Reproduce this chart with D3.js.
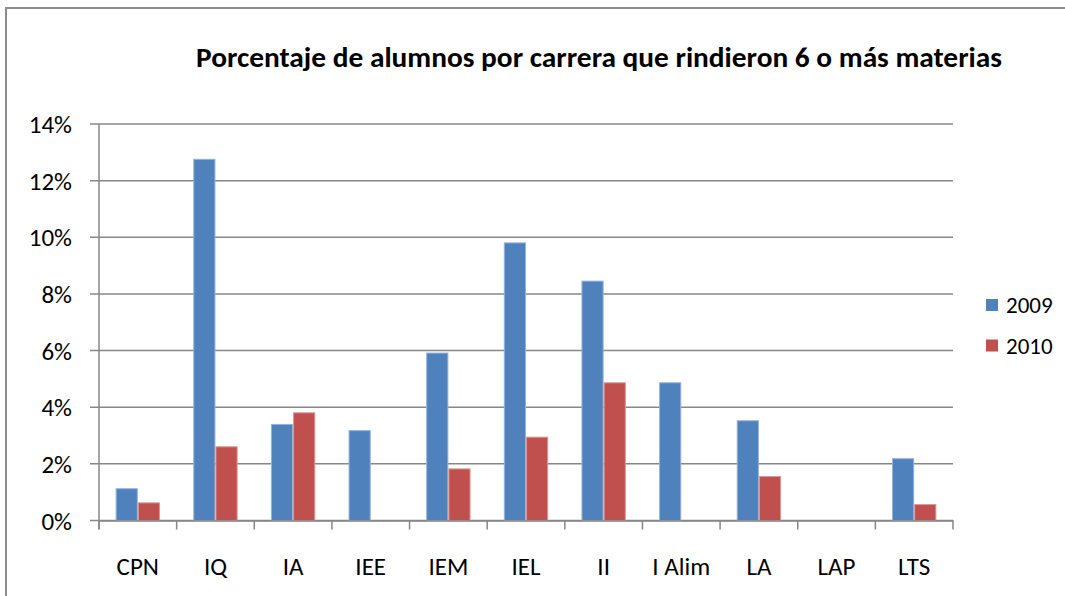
<!DOCTYPE html>
<html>
<head>
<meta charset="utf-8">
<script src="https://cdn.jsdelivr.net/npm/d3@7"></script>
<style>
    body { margin: 0; background: #fff; }
    svg { display: block; font-family: Carlito, "Liberation Sans", Arial, sans-serif; }
</style>
</head>
<body>
<div id="chart"></div>
<script>
const categories = ["CPN", "IQ", "IA", "IEE", "IEM", "IEL", "II", "I Alim", "LA", "LAP", "LTS"]
const series_names = ["2009", "2010"]
const values_2009 = [1.14, 12.77, 3.41, 3.19, 5.93, 9.82, 8.47, 4.88, 3.54, 0, 2.20]
const values_2010 = [0.64, 2.62, 3.82, 0, 1.84, 2.96, 4.88, 0, 1.57, 0, 0.58]
const y_ticks = [0, 2, 4, 6, 8, 10, 12, 14]
const colors = ["#4f81bd", "#c0504d"]
const title = "Porcentaje de alumnos por carrera que rindieron 6 o más materias"

const width = 1065
const height = 596
const margin = {top: 124, right: 112, bottom: 75.5, left: 99}

const svg = d3.select("#chart").append("svg")
    .attr("width", width)
    .attr("height", height)

// outer frame, only top and left edges are visible in the crop
svg.append("path")
    .attr("d", `M6,${height} V8 H${width}`)
    .attr("fill", "none")
    .attr("stroke", "#8c8c8c")
    .attr("stroke-width", 2)

const x = d3.scaleBand()
    .domain(categories)
    .range([margin.left, width - margin.right])

const x_inner = d3.scaleBand()
    .domain(series_names)
    .range([0, x.bandwidth()])
    .paddingInner(0)
    .paddingOuter(0.75)

const y = d3.scaleLinear()
    .domain([0, 14])
    .range([height - margin.bottom, margin.top])

// gridlines
svg.append("g")
    .selectAll("line")
    .data(y_ticks)
    .join("line")
    .attr("x1", margin.left - 9)
    .attr("x2", width - margin.right)
    .attr("y1", d => y(d))
    .attr("y2", d => y(d))
    .attr("stroke", "#878787")
    .attr("stroke-width", 1.5)

svg.append("g")
    .selectAll("text")
    .data(y_ticks)
    .join("text")
    .attr("x", 72)
    .attr("y", d => y(d))
    .attr("dy", "0.36em")
    .attr("text-anchor", "end")
    .attr("font-size", 25)
    .attr("fill", "#000")
    .text(d => d + "%")

const rows = categories.map((c, i) => ({cat: c, vals: [values_2009[i], values_2010[i]]}))

const group = svg.append("g")
    .selectAll("g")
    .data(rows)
    .join("g")
    .attr("transform", d => `translate(${x(d.cat)},0)`)

group.selectAll("rect")
    .data(d => d.vals.filter(v => v > 0).length ? d.vals.map((v, j) => ({name: series_names[j], v: v, j: j})).filter(e => e.v > 0) : [])
    .join("rect")
    .attr("x", d => x_inner(d.name) + 0.5)
    .attr("width", x_inner.bandwidth() - 1)
    .attr("y", d => y(d.v) + 0.5)
    .attr("height", d => y(0) - y(d.v) - 0.5)
    .attr("fill", d => colors[d.j])
    .attr("stroke", d => d3.interpolateRgb(colors[d.j], "#fff")(0.4))
    .attr("stroke-width", 1)

// axes
svg.append("line")
    .attr("x1", margin.left)
    .attr("x2", margin.left)
    .attr("y1", y(14))
    .attr("y2", y(0) + 9)
    .attr("stroke", "#878787")
    .attr("stroke-width", 1.5)

const x_axis = svg.append("g")
    .attr("transform", `translate(0,${y(0)})`)
    .call(d3.axisBottom(x).tickSize(0).tickFormat(""))
x_axis.select(".domain")
    .attr("stroke", "#878787")
    .attr("stroke-width", 1.5)

svg.append("g")
    .selectAll("line")
    .data(categories.concat(["end"]))
    .join("line")
    .attr("x1", (d, i) => i < categories.length ? x(d) : x.range()[1])
    .attr("x2", (d, i) => i < categories.length ? x(d) : x.range()[1])
    .attr("y1", y(0))
    .attr("y2", y(0) + 9)
    .attr("stroke", "#878787")
    .attr("stroke-width", 1.5)

svg.append("g")
    .selectAll("text")
    .data(categories)
    .join("text")
    .attr("x", d => x(d) + x.bandwidth() / 2)
    .attr("y", 566)
    .attr("dy", "0.36em")
    .attr("text-anchor", "middle")
    .attr("font-size", 25)
    .attr("fill", "#000")
    .text(d => d)

// title
svg.append("text")
    .attr("x", 196)
    .attr("y", 67)
    .attr("font-size", 28)
    .attr("font-weight", "bold")
    .attr("textLength", 806)
    .attr("lengthAdjust", "spacingAndGlyphs")
    .text(title)

// legend
const legend = svg.append("g")
    .selectAll("g")
    .data(series_names)
    .join("g")
    .attr("transform", (d, i) => `translate(986,${299 + i * 40.5})`)

legend.append("rect")
    .attr("width", 12)
    .attr("height", 12)
    .attr("fill", (d, i) => colors[i])

legend.append("text")
    .attr("x", 20)
    .attr("y", 6)
    .attr("dy", "0.36em")
    .attr("font-size", 23)
    .text(d => d)
</script>
</body>
</html>
